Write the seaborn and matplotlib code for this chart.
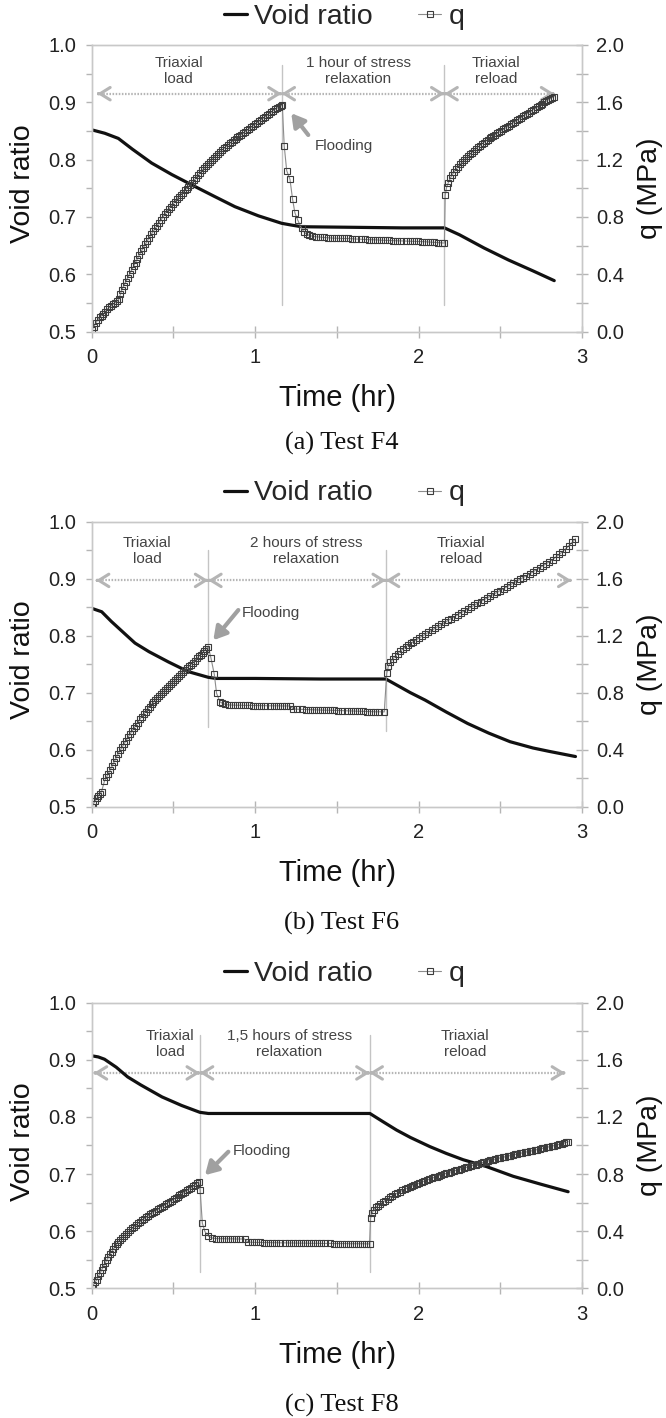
import matplotlib
matplotlib.use("Agg")
import matplotlib.pyplot as plt
import seaborn as sns
from matplotlib.lines import Line2D
from matplotlib.ticker import MultipleLocator, FormatStrFormatter

sns.set_style("white")
plt.rcParams["font.family"] = ["Liberation Sans", "DejaVu Sans"]

# ---------------- data ----------------
LEGEND_LABELS = ["Void ratio", "q"]
X_LABEL = "Time (hr)"
Y_LABEL = "Void ratio"
Y2_LABEL = "q (MPa)"

# ---- Test F4 ----
T_VOID_A = [0.00, 0.08, 0.163, 0.25, 0.367, 0.49, 0.612, 0.75, 0.876, 1.02, 1.162, 1.22, 1.284,
            1.6, 1.9, 2.158, 2.25, 2.40, 2.55, 2.70, 2.83]
E_VOID_A = [0.852, 0.846, 0.837, 0.818, 0.794, 0.774, 0.756, 0.736, 0.718, 0.702, 0.689, 0.686, 0.683,
            0.682, 0.681, 0.681, 0.669, 0.646, 0.625, 0.606, 0.589]
T_Q_A = [0.000, 0.012, 0.024, 0.036, 0.048, 0.060, 0.072, 0.084, 0.096, 0.108, 0.120, 0.132, 0.144, 0.156,
         0.166, 0.175, 0.184, 0.196, 0.208, 0.220, 0.232, 0.244, 0.256, 0.268, 0.280, 0.292, 0.304, 0.316,
         0.328, 0.340, 0.352, 0.364, 0.376, 0.388, 0.400, 0.412, 0.424, 0.436, 0.448, 0.460, 0.472, 0.484,
         0.496, 0.508, 0.520, 0.532, 0.544, 0.556, 0.568, 0.580, 0.592, 0.604, 0.616, 0.628, 0.640, 0.652,
         0.664, 0.676, 0.688, 0.700, 0.712, 0.724, 0.736, 0.748, 0.760, 0.772, 0.784, 0.796, 0.808, 0.820,
         0.832, 0.844, 0.856, 0.868, 0.880, 0.892, 0.904, 0.916, 0.928, 0.940, 0.952, 0.964, 0.976, 0.988,
         1.000, 1.012, 1.024, 1.036, 1.048, 1.060, 1.072, 1.084, 1.096, 1.108, 1.120, 1.132, 1.144, 1.156,
         1.166,
         1.178, 1.193, 1.213, 1.229, 1.243, 1.260, 1.284, 1.300, 1.315, 1.330, 1.350, 1.370,
         1.395, 1.420, 1.445, 1.470, 1.495, 1.520, 1.545, 1.570, 1.595, 1.620, 1.645, 1.670, 1.695, 1.720,
         1.745, 1.770, 1.795, 1.820, 1.845, 1.870, 1.895, 1.920, 1.945, 1.970, 1.995, 2.020, 2.045, 2.070,
         2.095, 2.120, 2.145, 2.158,
         2.163, 2.172, 2.182, 2.194, 2.206, 2.218, 2.230, 2.242, 2.254, 2.266, 2.278, 2.290, 2.302, 2.314,
         2.326, 2.338, 2.350, 2.362, 2.374, 2.386, 2.398, 2.410, 2.422, 2.434, 2.446, 2.458, 2.470, 2.482,
         2.494, 2.506, 2.518, 2.530, 2.542, 2.554, 2.566, 2.578, 2.590, 2.602, 2.614, 2.626, 2.638, 2.650,
         2.662, 2.674, 2.686, 2.698, 2.710, 2.722, 2.734, 2.746, 2.758, 2.770, 2.782, 2.794, 2.806, 2.818,
         2.830]
Q_A = [0.010, 0.035, 0.060, 0.080, 0.100, 0.112, 0.125, 0.140, 0.158, 0.170, 0.182, 0.193, 0.203, 0.213,
       0.228, 0.260, 0.292, 0.320, 0.348, 0.375, 0.402, 0.428, 0.455, 0.482, 0.510, 0.537, 0.562, 0.587,
       0.610, 0.633, 0.655, 0.678, 0.700, 0.720, 0.740, 0.760, 0.780, 0.800, 0.822, 0.838, 0.855, 0.872,
       0.888, 0.905, 0.922, 0.940, 0.955, 0.970, 0.985, 0.998, 1.012, 1.025, 1.040, 1.058, 1.075, 1.092,
       1.110, 1.127, 1.142, 1.158, 1.172, 1.186, 1.200, 1.214, 1.228, 1.242, 1.254, 1.266, 1.278, 1.290,
       1.302, 1.313, 1.324, 1.334, 1.344, 1.355, 1.365, 1.375, 1.385, 1.396, 1.406, 1.416, 1.426, 1.436,
       1.447, 1.458, 1.468, 1.478, 1.488, 1.498, 1.508, 1.518, 1.530, 1.540, 1.550, 1.558, 1.566, 1.574,
       1.582,
       1.295, 1.123, 1.063, 0.924, 0.830, 0.780, 0.720, 0.695, 0.680, 0.672, 0.666, 0.662,
       0.660, 0.657, 0.655, 0.653, 0.652, 0.651, 0.650, 0.650, 0.648, 0.646, 0.645, 0.643, 0.642, 0.641,
       0.640, 0.638, 0.637, 0.636, 0.635, 0.634, 0.633, 0.632, 0.631, 0.630, 0.629, 0.628, 0.627, 0.625,
       0.623, 0.621, 0.619, 0.618,
       0.950, 1.010, 1.040, 1.070, 1.095, 1.115, 1.135, 1.152, 1.168, 1.183, 1.197, 1.210, 1.223, 1.236,
       1.249, 1.262, 1.275, 1.287, 1.298, 1.309, 1.319, 1.329, 1.339, 1.348, 1.357, 1.366, 1.375, 1.384,
       1.393, 1.402, 1.411, 1.420, 1.429, 1.438, 1.447, 1.456, 1.465, 1.474, 1.483, 1.492, 1.501, 1.510,
       1.519, 1.528, 1.537, 1.546, 1.555, 1.564, 1.573, 1.582, 1.591, 1.600, 1.609, 1.618, 1.626, 1.633,
       1.640]
STAGE_BOUNDS_A = [0.034, 1.162, 2.158, 2.83]
STAGE_TEXT_A = ["Triaxial\nload", "1 hour of stress\nrelaxation", "Triaxial\nreload"]

# ---- Test F6 ----
T_VOID_B = [0.00, 0.061, 0.12, 0.20, 0.265, 0.35, 0.469, 0.59, 0.713, 0.76, 1.0, 1.4, 1.80,
            1.85, 1.95, 2.04, 2.17, 2.30, 2.43, 2.56, 2.70, 2.80, 2.96]
E_VOID_B = [0.848, 0.842, 0.825, 0.804, 0.787, 0.772, 0.754, 0.737, 0.727, 0.725, 0.725, 0.724, 0.724,
            0.716, 0.700, 0.687, 0.666, 0.646, 0.629, 0.614, 0.603, 0.597, 0.588]
T_Q_B = [0.000, 0.010, 0.020, 0.030, 0.040, 0.050, 0.060, 0.078, 0.090, 0.102, 0.114, 0.126, 0.138, 0.150,
         0.162, 0.174, 0.186, 0.198, 0.210, 0.222, 0.234, 0.246, 0.258, 0.270, 0.282, 0.294, 0.306, 0.318,
         0.330, 0.342, 0.354, 0.366, 0.378, 0.390, 0.402, 0.414, 0.426, 0.438, 0.450, 0.462, 0.474, 0.486,
         0.498, 0.510, 0.522, 0.534, 0.546, 0.558, 0.570, 0.582, 0.594, 0.606, 0.618, 0.630, 0.642, 0.654,
         0.666, 0.678, 0.690, 0.702, 0.713,
         0.730, 0.750, 0.764, 0.784, 0.800, 0.818, 0.838,
         0.863, 0.888, 0.913, 0.938, 0.963, 0.988, 1.013, 1.038, 1.063, 1.088, 1.113, 1.138, 1.163, 1.188,
         1.213, 1.234, 1.259, 1.284, 1.309, 1.334, 1.359, 1.384, 1.409, 1.434, 1.459, 1.484, 1.509, 1.534,
         1.559, 1.584, 1.609, 1.634, 1.659, 1.684, 1.709, 1.734, 1.759, 1.790,
         1.805, 1.815, 1.828, 1.842, 1.857, 1.872, 1.888, 1.904, 1.920, 1.936, 1.952, 1.968, 1.984, 2.000,
         2.020, 2.040, 2.060, 2.080, 2.100, 2.120, 2.140, 2.160, 2.180, 2.200, 2.220, 2.240, 2.260, 2.280,
         2.300, 2.320, 2.340, 2.360, 2.380, 2.400, 2.420, 2.440, 2.460, 2.480, 2.500, 2.520, 2.540, 2.560,
         2.580, 2.600, 2.620, 2.640, 2.660, 2.680, 2.700, 2.720, 2.740, 2.760, 2.780, 2.800, 2.820, 2.840,
         2.860, 2.880, 2.900, 2.920, 2.940, 2.960]
Q_B = [0.000, 0.020, 0.040, 0.058, 0.075, 0.092, 0.105, 0.180, 0.205, 0.232, 0.260, 0.288, 0.316, 0.345,
       0.372, 0.395, 0.418, 0.440, 0.463, 0.486, 0.508, 0.530, 0.550, 0.569, 0.590, 0.612, 0.632, 0.650,
       0.668, 0.686, 0.702, 0.718, 0.735, 0.752, 0.766, 0.780, 0.794, 0.807, 0.820, 0.834, 0.848, 0.862,
       0.875, 0.889, 0.903, 0.917, 0.931, 0.945, 0.958, 0.971, 0.984, 0.997, 1.010, 1.025, 1.040, 1.054,
       1.068, 1.082, 1.096, 1.110, 1.123,
       1.041, 0.929, 0.796, 0.737, 0.725, 0.718, 0.714,
       0.713, 0.712, 0.712, 0.711, 0.711, 0.710, 0.710, 0.709, 0.709, 0.708, 0.708, 0.708, 0.707, 0.707,
       0.707, 0.686, 0.684, 0.683, 0.682, 0.681, 0.680, 0.679, 0.678, 0.677, 0.677, 0.676, 0.675, 0.674,
       0.673, 0.672, 0.671, 0.670, 0.669, 0.668, 0.667, 0.666, 0.666, 0.665,
       0.935, 0.985, 1.012, 1.036, 1.057, 1.075, 1.092, 1.107, 1.121, 1.134, 1.146, 1.158, 1.170, 1.181,
       1.195, 1.209, 1.223, 1.237, 1.251, 1.265, 1.279, 1.293, 1.307, 1.320, 1.334, 1.347, 1.360, 1.374,
       1.387, 1.400, 1.413, 1.426, 1.439, 1.452, 1.465, 1.478, 1.491, 1.504, 1.517, 1.530, 1.543, 1.556,
       1.569, 1.582, 1.595, 1.608, 1.621, 1.634, 1.648, 1.662, 1.676, 1.690, 1.704, 1.719, 1.734, 1.752,
       1.770, 1.789, 1.810, 1.832, 1.856, 1.880]
STAGE_BOUNDS_B = [0.026, 0.713, 1.80, 2.935]
STAGE_TEXT_B = ["Triaxial\nload", "2 hours of stress\nrelaxation", "Triaxial\nreload"]

# ---- Test F8 ----
T_VOID_C = [0.00, 0.04, 0.078, 0.15, 0.22, 0.30, 0.43, 0.55, 0.662, 0.714, 1.0, 1.4, 1.702,
            1.78, 1.865, 1.95, 2.069, 2.17, 2.273, 2.416, 2.579, 2.75, 2.915]
E_VOID_C = [0.907, 0.905, 0.901, 0.887, 0.870, 0.856, 0.835, 0.820, 0.808, 0.806, 0.806, 0.806, 0.806,
            0.792, 0.777, 0.764, 0.748, 0.736, 0.725, 0.713, 0.696, 0.682, 0.669]
T_Q_C = [0.000, 0.010, 0.020, 0.031, 0.041, 0.051, 0.061, 0.071, 0.081, 0.092, 0.102, 0.112, 0.122, 0.133,
         0.143, 0.153, 0.163, 0.175, 0.187, 0.199, 0.211, 0.224, 0.236, 0.248, 0.260, 0.272, 0.285, 0.297,
         0.309, 0.321, 0.333, 0.345, 0.357, 0.369, 0.381, 0.393, 0.405, 0.417, 0.429, 0.441, 0.453, 0.465,
         0.477, 0.489, 0.501, 0.513, 0.525, 0.537, 0.549, 0.561, 0.573, 0.585, 0.597, 0.609, 0.621, 0.633,
         0.645, 0.655,
         0.663, 0.677, 0.693, 0.713, 0.735, 0.760,
         0.785, 0.810, 0.835, 0.860, 0.885, 0.910, 0.935, 0.955, 0.980, 1.005, 1.030, 1.055, 1.080, 1.105,
         1.130, 1.155, 1.180, 1.205, 1.230, 1.255, 1.280, 1.305, 1.330, 1.355, 1.380, 1.405, 1.430, 1.455,
         1.480, 1.505, 1.530, 1.555, 1.580, 1.605, 1.630, 1.655, 1.680, 1.700,
         1.706, 1.715, 1.726, 1.738, 1.750, 1.765, 1.780, 1.795, 1.810, 1.825, 1.840, 1.855, 1.870, 1.885,
         1.900, 1.915, 1.930, 1.945, 1.960, 1.975, 1.990, 2.005, 2.020, 2.035, 2.050, 2.065, 2.080, 2.095,
         2.110, 2.125, 2.140, 2.155, 2.170, 2.185, 2.200, 2.215, 2.230, 2.245, 2.260, 2.275, 2.290, 2.305,
         2.320, 2.335, 2.350, 2.365, 2.380, 2.395, 2.410, 2.425, 2.440, 2.455, 2.470, 2.485, 2.500, 2.515,
         2.530, 2.545, 2.560, 2.575, 2.590, 2.605, 2.620, 2.635, 2.650, 2.665, 2.680, 2.695, 2.710, 2.725,
         2.740, 2.755, 2.770, 2.785, 2.800, 2.815, 2.830, 2.845, 2.860, 2.875, 2.890, 2.905, 2.915]
Q_C = [0.005, 0.025, 0.042, 0.060, 0.083, 0.106, 0.128, 0.151, 0.174, 0.197, 0.218, 0.238, 0.256, 0.275,
       0.293, 0.310, 0.325, 0.341, 0.355, 0.369, 0.382, 0.395, 0.407, 0.419, 0.431, 0.443, 0.455, 0.466,
       0.476, 0.487, 0.497, 0.507, 0.517, 0.526, 0.535, 0.544, 0.553, 0.562, 0.570, 0.579, 0.587, 0.596,
       0.605, 0.614, 0.623, 0.632, 0.641, 0.650, 0.659, 0.668, 0.677, 0.686, 0.695, 0.704, 0.714, 0.725,
       0.737, 0.747,
       0.688, 0.455, 0.396, 0.366, 0.352, 0.348,
       0.347, 0.347, 0.346, 0.346, 0.345, 0.345, 0.345, 0.323, 0.322, 0.321, 0.321, 0.320, 0.320, 0.319,
       0.319, 0.318, 0.318, 0.317, 0.317, 0.316, 0.316, 0.316, 0.315, 0.315, 0.315, 0.314, 0.314, 0.314,
       0.313, 0.313, 0.313, 0.313, 0.312, 0.312, 0.312, 0.312, 0.311, 0.311,
       0.490, 0.525, 0.550, 0.566, 0.578, 0.591, 0.603, 0.614, 0.625, 0.636, 0.647, 0.657, 0.667, 0.676,
       0.685, 0.693, 0.701, 0.709, 0.716, 0.723, 0.730, 0.737, 0.744, 0.751, 0.757, 0.764, 0.770, 0.776,
       0.782, 0.788, 0.794, 0.799, 0.805, 0.810, 0.816, 0.821, 0.826, 0.831, 0.836, 0.841, 0.846, 0.851,
       0.856, 0.861, 0.866, 0.871, 0.876, 0.881, 0.886, 0.891, 0.896, 0.900, 0.905, 0.909, 0.913, 0.917,
       0.921, 0.925, 0.929, 0.933, 0.937, 0.941, 0.945, 0.948, 0.952, 0.956, 0.959, 0.963, 0.967, 0.971,
       0.975, 0.979, 0.983, 0.987, 0.991, 0.995, 0.999, 1.003, 1.008, 1.012, 1.017, 1.022, 1.027]
STAGE_BOUNDS_C = [0.013, 0.662, 1.70, 2.896]
STAGE_TEXT_C = ["Triaxial\nload", "1,5 hours of stress\nrelaxation", "Triaxial\nreload"]

CAPTIONS = ["(a) Test F4", "(b) Test F6", "(c) Test F8"]

# ---------------- layout / style ----------------
panels = [
    dict(rect=(0.1377, 0.7661, 0.7362, 0.2022), tv=T_VOID_A, ev=E_VOID_A, tq=T_Q_A, q=Q_A,
         bounds=STAGE_BOUNDS_A, stext=STAGE_TEXT_A, stx=[0.532, 1.631, 2.473], sty=0.955, arr_y=0.915,
         vl_top=0.965, vl_bot=[0.547, 0.547],
         fl_text=(1.364, 0.824), fl_head=(1.221, 0.881), fl_tail=(1.325, 0.843), cap_y=1 - 443 / 1418),
    dict(rect=(0.1377, 0.4311, 0.7362, 0.2010), tv=T_VOID_B, ev=E_VOID_B, tq=T_Q_B, q=Q_B,
         bounds=STAGE_BOUNDS_B, stext=STAGE_TEXT_B, stx=[0.338, 1.312, 2.26], sty=0.949, arr_y=0.897,
         vl_top=0.95, vl_bot=[0.640, 0.632],
         fl_text=(0.917, 0.839), fl_head=(0.744, 0.792), fl_tail=(0.897, 0.845), cap_y=1 - 923 / 1418),
    dict(rect=(0.1377, 0.0915, 0.7362, 0.2014), tv=T_VOID_C, ev=E_VOID_C, tq=T_Q_C, q=Q_C,
         bounds=STAGE_BOUNDS_C, stext=STAGE_TEXT_C, stx=[0.48, 1.208, 2.286], sty=0.928, arr_y=0.877,
         vl_top=0.943, vl_bot=[0.529, 0.529],
         fl_text=(0.866, 0.741), fl_head=(0.693, 0.698), fl_tail=(0.836, 0.739), cap_y=1 - 1405 / 1418),
]

SPINE_C = "#c8c8c8"
TICK_C = "#b5b5b5"
LABEL_C = "#222222"
ANN_C = "#444444"
ARROW_C = "#b5b5b5"
VOID_C = "#111111"
Q_LINE_C = "#8c8c8c"
Q_EDGE_C = "#3c3c3c"

fig = plt.figure(figsize=(6.66, 14.18), dpi=100)

for i, p in enumerate(panels):
    ax = fig.add_axes(p["rect"])
    ax2 = ax.twinx()

    sns.lineplot(x=p["tv"], y=p["ev"], ax=ax, color=VOID_C, lw=2.3, estimator=None, sort=False)
    sns.lineplot(x=p["tq"], y=p["q"], ax=ax2, color=Q_LINE_C, lw=0.8, marker="s", ms=4.4,
                 mfc="none", mec=Q_EDGE_C, mew=0.8, estimator=None, sort=False)

    ax.set_xlim(0, 3)
    ax.set_ylim(0.5, 1.0)
    ax2.set_ylim(0, 2)

    ax.xaxis.set_major_locator(MultipleLocator(1))
    ax.xaxis.set_minor_locator(MultipleLocator(0.5))
    ax.yaxis.set_major_locator(MultipleLocator(0.1))
    ax.yaxis.set_minor_locator(MultipleLocator(0.05))
    ax.yaxis.set_major_formatter(FormatStrFormatter("%.1f"))
    ax2.yaxis.set_major_locator(MultipleLocator(0.4))
    ax2.yaxis.set_minor_locator(MultipleLocator(0.2))
    ax2.yaxis.set_major_formatter(FormatStrFormatter("%.1f"))

    ax.tick_params(axis="y", which="both", left=True, right=False, direction="out", length=4,
                   width=1, color=TICK_C, labelsize=14.5, labelcolor=LABEL_C, pad=7)
    ax.tick_params(axis="x", which="both", bottom=True, top=False, direction="inout", length=8,
                   width=1, color=TICK_C, labelsize=14.5, labelcolor=LABEL_C, pad=8)
    ax2.tick_params(axis="y", which="both", right=True, left=False, direction="inout", length=8,
                    width=1, color=TICK_C, labelsize=14.5, labelcolor=LABEL_C, pad=6)

    for a in (ax, ax2):
        for s in a.spines.values():
            s.set_visible(True)
            s.set_color(SPINE_C)
            s.set_linewidth(1)

    ax.set_xlabel(X_LABEL, fontsize=21, color="#111")
    ax.xaxis.set_label_coords(0.502, -0.233)
    ax.xaxis.label.set_va("center")
    ax.set_ylabel(Y_LABEL, fontsize=20.5, color="#111")
    ax.yaxis.set_label_coords(-0.140, 0.515)
    ax.yaxis.label.set_va("center")
    ax2.set_ylabel(Y2_LABEL, fontsize=20.5, color="#111", rotation=90)
    ax2.yaxis.set_label_coords(1.138, 0.5)
    ax2.yaxis.label.set_va("center")
    ax2.yaxis.label.set_ha("center")

    # stage boundaries
    for b, bot in zip(p["bounds"][1:3], p["vl_bot"]):
        ax.plot([b, b], [bot, p["vl_top"]], color="#c4c4c4", lw=1, zorder=1)

    # dotted double arrows
    bnds = p["bounds"]
    for s, e in zip(bnds[:-1], bnds[1:]):
        ax.plot([s, e], [p["arr_y"], p["arr_y"]], ls=(0, (0.7, 0.7)), color=ARROW_C, lw=1.6, zorder=1)
        for tip, d in ((s, -1), (e, 1)):
            ax.annotate("", xy=(tip, p["arr_y"]), xytext=(tip - d * 0.01, p["arr_y"]),
                        arrowprops=dict(arrowstyle="->,head_length=0.45,head_width=0.28",
                                        color=ARROW_C, lw=2.2, shrinkA=0, shrinkB=0,
                                        mutation_scale=16))

    # stage labels
    for x, txt in zip(p["stx"], p["stext"]):
        ax.text(x, p["sty"], txt, ha="center", va="center", fontsize=11, color=ANN_C,
                linespacing=1.15)

    # flooding
    ax.annotate("", xy=p["fl_head"], xytext=p["fl_tail"],
                arrowprops=dict(arrowstyle="-|>,head_length=0.55,head_width=0.32", color="#a0a0a0",
                                lw=3, shrinkA=0, shrinkB=0, mutation_scale=14))
    ax.text(p["fl_text"][0], p["fl_text"][1], "Flooding", ha="left", va="center", fontsize=11,
            color=ANN_C)

    # legend
    handles = [Line2D([], [], color=VOID_C, lw=2.3),
               Line2D([], [], color=Q_LINE_C, lw=0.8, marker="s", ms=4.4, mfc="none",
                      mec=Q_EDGE_C, mew=0.8)]
    ax2.legend(handles, LEGEND_LABELS, ncol=2, loc="center", bbox_to_anchor=(0.515, 1.099),
               frameon=False, fontsize=20.5, handlelength=0.8, handletextpad=0.25,
               columnspacing=1.6, borderpad=0, borderaxespad=0)

    fig.text(0.513, p["cap_y"], CAPTIONS[i], ha="center", va="center", fontsize=19,
             family=["Liberation Serif", "DejaVu Serif"], color="#111")

fig.savefig("out.png", dpi=100)
